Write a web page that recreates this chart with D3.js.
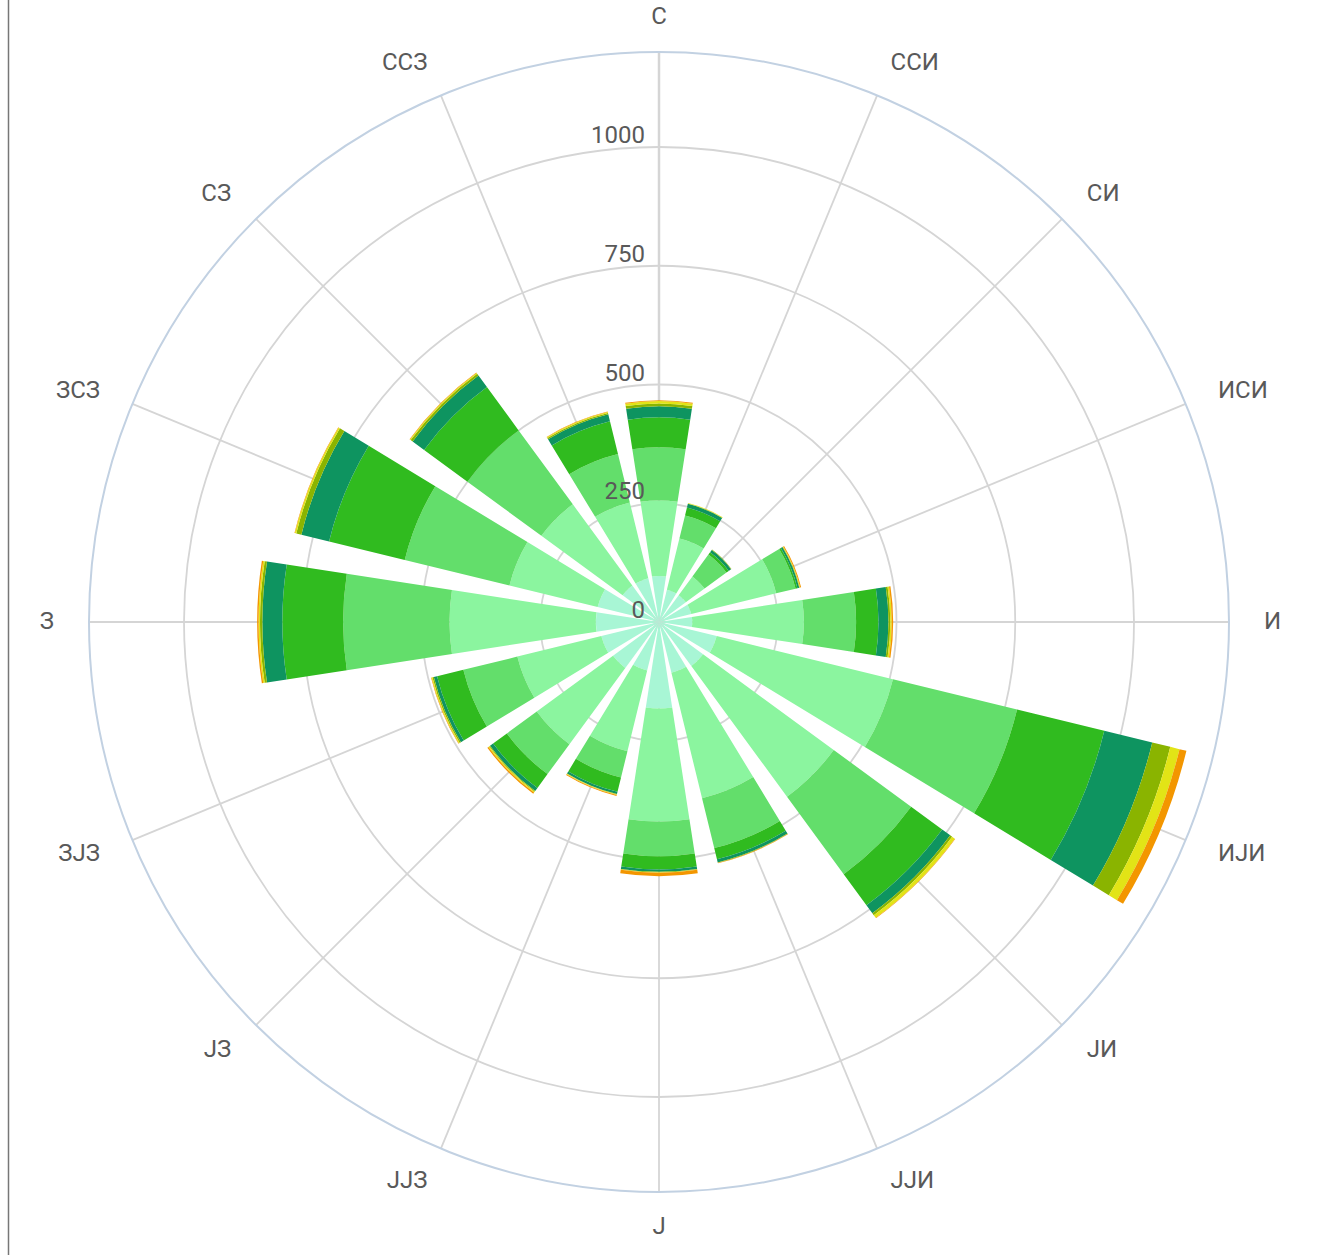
<!DOCTYPE html>
<html>
<head>
<meta charset="utf-8">
<script src="https://cdn.jsdelivr.net/npm/d3@7"></script>
<style>
  body { margin: 0; background: #fff; }
  #wind-rose { width: 1322px; height: 1255px; }
  .dirLabel, .tickLabel { font-family: Roboto, 'Noto Sans', sans-serif; font-size: 24px; fill: #595959; }
</style>
</head>
<body>
<div id="wind-rose"></div>
<script>
/* global d3 */

const directions = ['С', 'ССИ', 'СИ', 'ИСИ', 'И', 'ИЈИ', 'ЈИ', 'ЈЈИ', 'Ј', 'ЈЈЗ', 'ЈЗ', 'ЗЈЗ', 'З', 'ЗСЗ', 'СЗ', 'ССЗ'];

// stacked series, from the centre outwards
const speed1 = [97, 70, 70, 70, 70, 125, 115, 110, 182, 105, 120, 125, 133, 133, 95, 95];
const speed2 = [159, 111, 49, 184, 235, 382, 341, 272, 238, 175, 199, 182, 308, 191, 212, 164];
const speed3 = [112, 50, 57, 42, 110, 269, 202, 108, 73, 57, 78, 117, 224, 227, 193, 105];
const speed4 = [63, 17, 6, 4, 47, 189, 81, 24, 28, 31, 36, 57, 128, 164, 113, 71];
const speed5 = [23, 8, 6, 4, 21, 104, 21, 7, 5, 5, 8, 7, 42, 60, 30, 15];
const speed6 = [6, 1, 1, 1, 4, 39, 5, 1, 1, 1, 2, 3, 5, 11, 5, 3];
const speed7 = [5, 1, 0, 1, 3, 20, 7, 0, 1, 1, 2, 2, 3, 3, 2, 2];
const speed8 = [2, 0, 0, 2, 3, 15, 1, 1, 7, 2, 3, 1, 3, 1, 1, 1];

const radialTicks = [0, 250, 500, 750, 1000];
const radialMax = 1200;

const seriesList = [speed1, speed2, speed3, speed4, speed5, speed6, speed7, speed8];
const seriesKeys = seriesList.map((s, i) => `s${i}`);
const colors = ['#a8f6d5', '#8bf59f', '#63de6b', '#30bb1f', '#0e9460', '#8ab400', '#e2e416', '#f39600'];

function drawWindRose() {
  const width = 1322;
  const height = 1255;
  const cx = 659;
  const cy = 622;
  const outer = 570;
  const labelRadius = 605;

  const container = d3.select('#wind-rose');
  container.html('');

  const svg = container.append('svg')
    .attr('width', width)
    .attr('height', height);

  // left edge rule
  svg.append('line')
    .attr('x1', 8.5)
    .attr('x2', 8.5)
    .attr('y1', 0)
    .attr('y2', height)
    .style('stroke', '#777')
    .style('stroke-width', 1.5);

  const g = svg.append('g')
    .attr('transform', `translate(${cx},${cy})`);

  const rScale = d3.scaleLinear()
    .domain([0, radialMax])
    .range([0, outer]);

  const step = (2 * Math.PI) / directions.length;
  const pad = 0.22;
  const aScale = d3.scaleBand()
    .domain(directions)
    .range([-step / 2, 2 * Math.PI - step / 2])
    .paddingInner(pad)
    .paddingOuter(pad / 2);

  const centerAngle = (d) => aScale(d) + aScale.bandwidth() / 2;

  // grid circles
  g.selectAll('.gridCircle')
    .data(radialTicks.filter((t) => t > 0))
    .enter()
    .append('circle')
    .attr('class', 'gridCircle')
    .attr('r', (d) => rScale(d))
    .style('fill', 'none')
    .style('stroke', '#d5d5d5')
    .style('stroke-width', 1.8);

  // spokes
  g.selectAll('.spoke')
    .data(directions)
    .enter()
    .append('line')
    .attr('class', 'spoke')
    .attr('x1', 0)
    .attr('y1', 0)
    .attr('x2', (d) => outer * Math.sin(centerAngle(d)))
    .attr('y2', (d) => -outer * Math.cos(centerAngle(d)))
    .style('stroke', '#d5d5d5')
    .style('stroke-width', (d, i) => (i === 0 ? 2.5 : 1.8));

  // outer ring
  g.append('circle')
    .attr('r', outer)
    .style('fill', 'none')
    .style('stroke', '#c2d1e2')
    .style('stroke-width', 2);

  // stacked bars
  const table = directions.map((dir, i) => {
    const row = { dir };
    seriesKeys.forEach((k, j) => { row[k] = seriesList[j][i]; });
    return row;
  });

  const stacked = d3.stack().keys(seriesKeys)(table);

  const arc = d3.arc()
    .innerRadius((d) => rScale(d[0]))
    .outerRadius((d) => rScale(d[1]))
    .startAngle((d) => aScale(d.data.dir))
    .endAngle((d) => aScale(d.data.dir) + aScale.bandwidth());

  const layers = g.selectAll('.layer')
    .data(stacked)
    .enter()
    .append('g')
    .attr('class', 'layer')
    .style('fill', (d, i) => colors[i]);

  layers.selectAll('path')
    .data((d) => d.filter((p) => p[1] > p[0]))
    .enter()
    .append('path')
    .attr('d', arc);

  // radial tick labels
  g.selectAll('.tickLabel')
    .data(radialTicks)
    .enter()
    .append('text')
    .attr('class', 'tickLabel')
    .attr('x', -14)
    .attr('y', (d) => -rScale(d) - 4)
    .style('text-anchor', 'end')
    .text((d) => d);

  // direction labels
  g.selectAll('.dirLabel')
    .data(directions)
    .enter()
    .append('text')
    .attr('class', 'dirLabel')
    .attr('x', (d) => labelRadius * Math.sin(centerAngle(d)))
    .attr('y', (d) => -labelRadius * Math.cos(centerAngle(d)))
    .attr('dy', '0.3em')
    .style('text-anchor', (d) => {
      const s = Math.sin(centerAngle(d));
      if (s > 0.05) return 'start';
      if (s < -0.05) return 'end';
      return 'middle';
    })
    .text((d) => d);
}

drawWindRose();
</script>
</body>
</html>
